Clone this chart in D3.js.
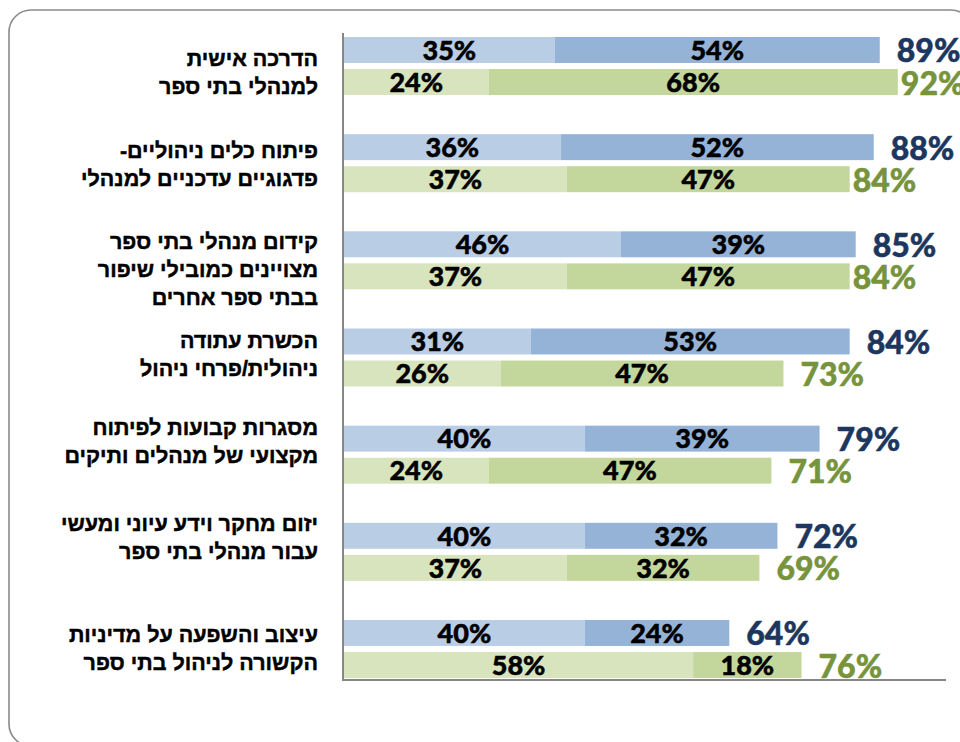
<!DOCTYPE html>
<html lang="he">
<head>
<meta charset="utf-8">
<script src="https://cdn.jsdelivr.net/npm/d3@7"></script>
<style>
  html, body { margin: 0; padding: 0; background: #ffffff; }
  svg { display: block; }
</style>
</head>
<body>
<svg id="chart" width="960" height="742"></svg>
<script>
// Category labels (each entry is the lines of one label)
const categoryLines = [
  ["הדרכה אישית", "למנהלי בתי ספר"],
  ["פיתוח כלים ניהוליים-", "פדגוגיים עדכניים למנהלי"],
  ["קידום מנהלי בתי ספר", "מצויינים כמובילי שיפור", "בבתי ספר אחרים"],
  ["הכשרת עתודה", "ניהולית/פרחי ניהול"],
  ["מסגרות קבועות לפיתוח", "מקצועי של מנהלים ותיקים"],
  ["יזום מחקר וידע עיוני ומעשי", "עבור מנהלי בתי ספר"],
  ["עיצוב והשפעה על מדיניות", "הקשורה לניהול בתי ספר"]
];
const categories = categoryLines.map(l => l.join(" "));

// Blue group: two stacked parts and the total
const blueLight = [35, 36, 46, 31, 40, 40, 40];
const blueDark  = [54, 52, 39, 53, 39, 32, 24];
const blueTotal = [89, 88, 85, 84, 79, 72, 64];

// Green group: two stacked parts and the total
const greenLight = [24, 37, 37, 26, 24, 37, 58];
const greenDark  = [68, 47, 47, 47, 47, 32, 18];
const greenTotal = [92, 84, 84, 73, 71, 69, 76];

const groups = ["blue", "green"];

const svg = d3.select("#chart");

// Rounded frame around the chart area
svg.append("rect")
  .attr("x", 9).attr("y", 10)
  .attr("width", 964).attr("height", 736)
  .attr("rx", 22).attr("ry", 22)
  .attr("fill", "none")
  .attr("stroke", "#8a8a8a")
  .attr("stroke-width", 1.6);

const plot = { left: 344, right: 946, top: 37, bottom: 678 };

const x = d3.scaleLinear().domain([0, 100]).range([plot.left, plot.right]);

const y = d3.scaleBand()
  .domain(categories)
  .range([plot.top, plot.bottom])
  .paddingInner(0.403)
  .paddingOuter(0);

const ySub = d3.scaleBand()
  .domain(groups)
  .range([0, y.bandwidth()])
  .paddingInner(0.19);

const palette = {
  blue:  { light: "#b9cde5", dark: "#95b3d7", total: "#1c3660" },
  green: { light: "#d7e4bd", dark: "#c3d69b", total: "#77933c" }
};

const seriesData = {
  blue:  { light: blueLight,  dark: blueDark,  total: blueTotal },
  green: { light: greenLight, dark: greenDark, total: greenTotal }
};

const numFont = "Lato, 'Liberation Sans', Arial, sans-serif";

categories.forEach((cat, i) => {
  groups.forEach(g => {
    const rows = [{ light: seriesData[g].light[i], dark: seriesData[g].dark[i] }];
    const stacked = d3.stack().keys(["light", "dark"])(rows);
    const y0 = y(cat) + ySub(g);
    const h = ySub.bandwidth();
    const grp = svg.append("g");

    stacked.forEach(layer => {
      const seg = layer[0];
      grp.append("rect")
        .attr("x", x(seg[0]))
        .attr("y", y0)
        .attr("width", x(seg[1]) - x(seg[0]))
        .attr("height", h)
        .attr("fill", palette[g][layer.key]);
      grp.append("text")
        .attr("x", (x(seg[0]) + x(seg[1])) / 2)
        .attr("y", y0 + h / 2)
        .attr("dy", "0.36em")
        .attr("text-anchor", "middle")
        .attr("font-family", numFont)
        .attr("font-weight", 900)
        .attr("font-size", 27)
        .attr("fill", "#000")
        .attr("stroke", "#000")
        .attr("stroke-width", 0.5)
        .text(seg[1] - seg[0] + "%");
    });

    // Total label after the bar end
    const total = seriesData[g].total[i];
    const gap = (g === "green" && total >= 80) ? 3 : 17;
    grp.append("text")
      .attr("x", x(total) + gap)
      .attr("y", y0 + h / 2 + 1)
      .attr("dy", "0.36em")
      .attr("text-anchor", "start")
      .attr("font-family", numFont)
      .attr("font-weight", 900)
      .attr("font-size", 32)
      .attr("fill", palette[g].total)
      .attr("stroke", palette[g].total)
      .attr("stroke-width", 0.5)
      .text(total + "%");
  });
});

// Axes lines (left and bottom)
svg.append("line")
  .attr("x1", plot.left - 1).attr("x2", plot.left - 1)
  .attr("y1", 33).attr("y2", plot.bottom + 3)
  .attr("stroke", "#868686").attr("stroke-width", 2);
svg.append("line")
  .attr("x1", plot.left - 2).attr("x2", plot.right)
  .attr("y1", plot.bottom + 2).attr("y2", plot.bottom + 2)
  .attr("stroke", "#868686").attr("stroke-width", 2);

// Category labels, right-aligned against the axis
const labelShift = [6, 1, 9, -3, -13, -14, -1];
const lineGap = 28;
categories.forEach((cat, i) => {
  const lines = categoryLines[i];
  const center = y(cat) + y.bandwidth() / 2 + labelShift[i];
  const first = center - (lines.length - 1) * lineGap / 2;
  const t = svg.append("text")
    .attr("direction", "rtl")
    .attr("text-anchor", "start")
    .attr("font-family", "'Liberation Sans', Arial, sans-serif")
    .attr("font-weight", 700)
    .attr("font-size", 21.5)
    .attr("fill", "#000")
    .attr("stroke", "#000")
    .attr("stroke-width", 0.45);
  lines.forEach((ln, k) => {
    t.append("tspan")
      .attr("x", 318)
      .attr("y", first + k * lineGap)
      .attr("dy", "0.35em")
      .text(ln);
  });
});
</script>
</body>
</html>
